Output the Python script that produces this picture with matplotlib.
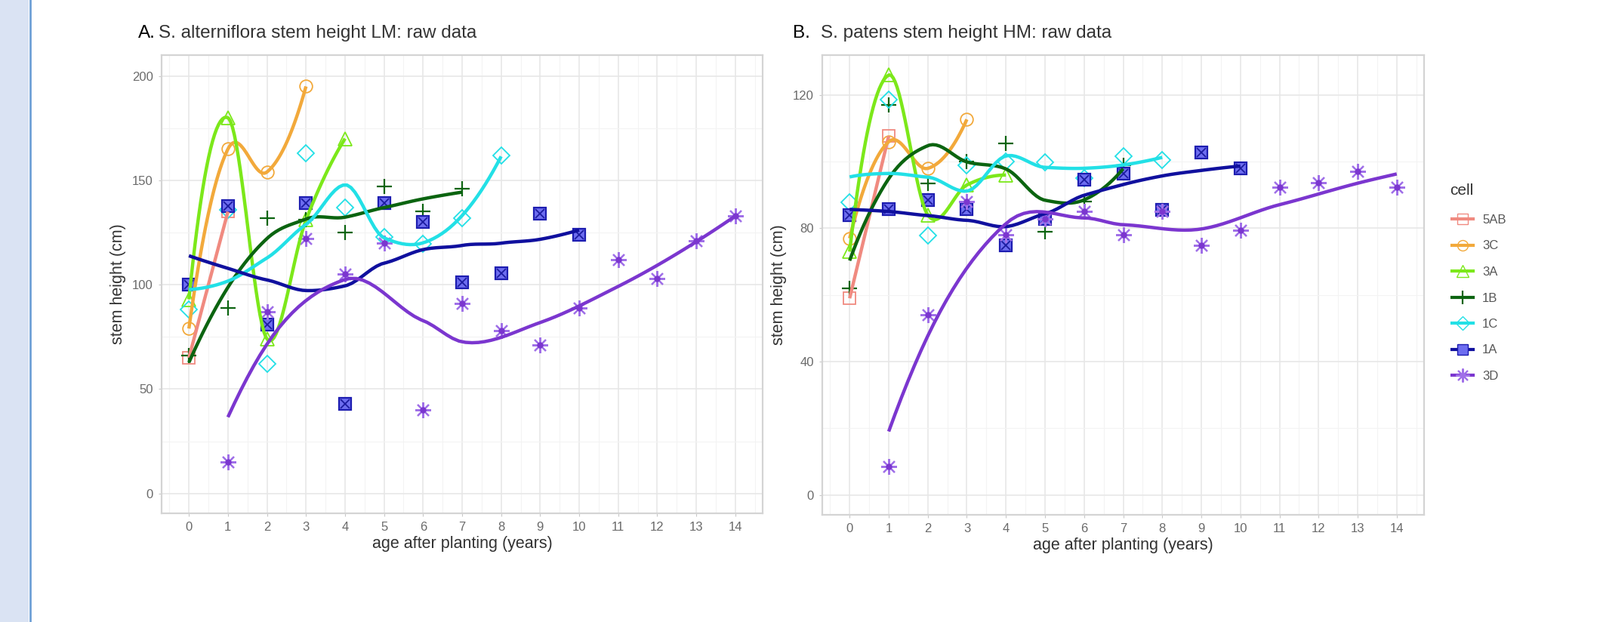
import numpy as np
import matplotlib
matplotlib.use("Agg")
import matplotlib.pyplot as plt
from matplotlib.lines import Line2D

plt.rcParams["font.family"] = ["Liberation Sans", "DejaVu Sans"]

# ---- data (years after planting, stem height cm) ----
cells = ["5AB", "3C", "3A", "1B", "1C", "1A", "3D"]

a_5AB_x = [0, 1]
a_5AB_y = [65, 135]
a_3C_x = [0, 1, 2, 3]
a_3C_y = [79, 165, 154, 195]
a_3A_x = [0, 1, 2, 3, 4]
a_3A_y = [93, 180, 74, 131, 170]
a_1B_x = [0, 1, 2, 3, 4, 5, 6, 7]
a_1B_y = [66, 89, 132, 131, 125, 147, 135, 146]
a_1C_x = [0, 1, 2, 3, 4, 5, 6, 7, 8]
a_1C_y = [88, 136, 62, 163, 137, 123, 119.5, 132, 162]
a_1A_x = [0, 1, 2, 3, 4, 5, 6, 7, 8, 9, 10]
a_1A_y = [100, 137.5, 81, 139, 43, 139, 130, 101, 105.5, 134, 124]
a_3D_x = [1, 2, 3, 4, 5, 6, 7, 8, 9, 10, 11, 12, 13, 14]
a_3D_y = [15, 87, 122, 105, 120, 40, 91, 78, 71, 89, 112, 103, 121, 133]

b_5AB_x = [0, 1]
b_5AB_y = [59, 107.7]
b_3C_x = [0, 1, 2, 3]
b_3C_y = [77, 106, 98, 112.7]
b_3A_x = [0, 1, 2, 3, 4]
b_3A_y = [73, 126, 84, 93, 96]
b_1B_x = [0, 1, 2, 3, 4, 5, 6, 7]
b_1B_y = [62, 117, 93.4, 100, 105.4, 79, 88, 99]
b_1C_x = [0, 1, 2, 3, 4, 5, 6, 7, 8]
b_1C_y = [87.7, 118.6, 77.8, 99, 100, 99.8, 95, 101.6, 100.5]
b_1A_x = [0, 1, 2, 3, 4, 5, 6, 7, 8, 9, 10]
b_1A_y = [84, 85.7, 88.4, 85.7, 74.8, 82.8, 94.5, 96.4, 85.5, 102.7, 98]
b_3D_x = [1, 2, 3, 4, 5, 6, 7, 8, 9, 10, 11, 12, 13, 14]
b_3D_y = [8.6, 54, 88, 78, 82.8, 85, 78, 85, 75, 79.4, 92.3, 93.7, 97, 92.3]

panel_a = {"5AB": (a_5AB_x, a_5AB_y), "3C": (a_3C_x, a_3C_y), "3A": (a_3A_x, a_3A_y),
           "1B": (a_1B_x, a_1B_y), "1C": (a_1C_x, a_1C_y), "1A": (a_1A_x, a_1A_y),
           "3D": (a_3D_x, a_3D_y)}
panel_b = {"5AB": (b_5AB_x, b_5AB_y), "3C": (b_3C_x, b_3C_y), "3A": (b_3A_x, b_3A_y),
           "1B": (b_1B_x, b_1B_y), "1C": (b_1C_x, b_1C_y), "1A": (b_1A_x, b_1A_y),
           "3D": (b_3D_x, b_3D_y)}

colors = {"5AB": "#F08A80", "3C": "#F2A93B", "3A": "#7CE81A", "1B": "#0B6410",
          "1C": "#22E0E6", "1A": "#10109E", "3D": "#7B36CF"}


def local_fit(x, y, x0, span, degree):
    # tricube-weighted local polynomial at x0 -> (value, slope)
    n = len(x)
    deg = min(degree, n - 1)
    q = min(max(int(np.floor(n * span)), deg + 1), n)
    d = np.abs(x - x0)
    ds = np.sort(d)
    if q < n:
        rho = 0.5 * (ds[q - 1] + ds[q])
    else:
        rho = ds[-1] * 1.15
    w = np.clip(1 - (d / rho) ** 3, 0, None) ** 3
    X = np.vander(x - x0, deg + 1, increasing=True)
    sw = np.sqrt(w)
    coef, *_ = np.linalg.lstsq(X * sw[:, None], y * sw, rcond=None)
    return coef[0], (coef[1] if deg >= 1 else 0.0)


def loess(x, y, xs, span=0.75, degree=2, cell=0.2):
    # loess with kd-tree vertices and cubic Hermite interpolation between them
    x = np.asarray(x, float)
    y = np.asarray(y, float)
    srt = np.sort(x)
    n = len(srt)
    fc = int(np.floor(n * span * cell))
    mu = 0.005 * max(srt[-1] - srt[0], 1e-10)
    lo, hi = srt[0] - mu, srt[-1] + mu
    verts = {lo, hi}

    def split(l, u, a, b):
        if u - l + 1 <= fc:
            return
        m = (l + u) // 2
        t = srt[m]
        if t == a or t == b:
            return
        verts.add(t)
        split(l, m, a, t)
        split(m + 1, u, t, b)

    split(0, n - 1, lo, hi)
    v = np.array(sorted(verts))
    fits = np.array([local_fit(x, y, vv, span, degree) for vv in v])
    val, slope = fits[:, 0], fits[:, 1]
    out = []
    for x0 in xs:
        i = min(max(np.searchsorted(v, x0) - 1, 0), len(v) - 2)
        h = v[i + 1] - v[i]
        t = (x0 - v[i]) / h
        h00 = 2 * t**3 - 3 * t**2 + 1
        h10 = t**3 - 2 * t**2 + t
        h01 = -2 * t**3 + 3 * t**2
        h11 = t**3 - t**2
        out.append(h00 * val[i] + h10 * h * slope[i] + h01 * val[i + 1] + h11 * h * slope[i + 1])
    return np.array(out)


def draw_points(ax, cell, x, y):
    c = colors[cell]
    if cell == "5AB":
        ax.plot(x, y, "s", ms=12, mfc="none", mec=c, mew=1.3, zorder=3)
    elif cell == "3C":
        ax.plot(x, y, "o", ms=12, mfc="none", mec=c, mew=1.3, zorder=3)
    elif cell == "3A":
        ax.plot(x, y, "^", ms=13, mfc="none", mec=c, mew=1.3, zorder=3)
    elif cell == "1B":
        ax.plot(x, y, "+", ms=15, mec=c, mew=1.6, zorder=3)
    elif cell == "1C":
        ax.plot(x, y, "D", ms=11, mfc="none", mec=c, mew=1.3, zorder=3)
    elif cell == "1A":
        ax.plot(x, y, "s", ms=12, mfc="#6D6DF0", mec="#1C1CB0", mew=1.6, zorder=3)
        ax.plot(x, y, "x", ms=8, mec="#1C1CA0", mew=1.3, zorder=3)
    elif cell == "3D":
        ax.plot(x, y, marker=(8, 2, 0), ls="none", ms=15, mec="#A070E8", mew=1.6, zorder=3)
        ax.plot(x, y, "o", ms=5, mfc=c, mec=c, zorder=3)


def style_axes(ax, ylim, ymajor, yminor):
    ax.set_xlim(-0.7, 14.7)
    ax.set_ylim(*ylim)
    ax.set_xticks(range(0, 15))
    ax.set_xticks(np.arange(-0.5, 15, 1), minor=True)
    ax.set_yticks(ymajor)
    ax.set_yticks(yminor, minor=True)
    ax.grid(which="major", color="#E6E6E6", lw=1.1, zorder=0)
    ax.grid(which="minor", color="#F3F3F3", lw=0.8, zorder=0)
    ax.set_axisbelow(True)
    for s in ax.spines.values():
        s.set_color("#D4D4D4")
        s.set_linewidth(1.6)
    ax.tick_params(which="major", length=3, color="#C8C8C8", labelsize=12,
                   labelcolor="#6A6A6A", pad=5)
    ax.tick_params(which="minor", length=0)
    ax.set_xlabel("age after planting (years)", fontsize=15.5, color="#333333", labelpad=3)
    ax.set_ylabel("stem height (cm)", fontsize=15.5, color="#333333", labelpad=6)


fig = plt.figure(figsize=(21.19, 8.24), dpi=100)
fig.patches.append(plt.Rectangle((0, 0), 38 / 2119, 1, transform=fig.transFigure,
                                 facecolor="#DAE3F3", edgecolor="none", zorder=0))
fig.add_artist(Line2D([39.5 / 2119, 39.5 / 2119], [0, 1], transform=fig.transFigure,
                      color="#6FA0D6", lw=2))

ax_a = fig.add_axes([214 / 2119, 144 / 824, 796 / 2119, 607 / 824])
ax_b = fig.add_axes([1089 / 2119, 142 / 824, 797 / 2119, 609 / 824])

for ax, data in ((ax_a, panel_a), (ax_b, panel_b)):
    for cell in cells:
        x, y = data[cell]
        draw_points(ax, cell, x, y)
    for cell in cells:
        x, y = data[cell]
        xs = np.linspace(min(x), max(x), 80)
        ax.plot(xs, loess(x, y, xs), color=colors[cell], lw=3.2, zorder=4,
                solid_capstyle="butt")

style_axes(ax_a, (-9.5, 210), [0, 50, 100, 150, 200], [25, 75, 125, 175])
style_axes(ax_b, (-6, 132), [0, 40, 80, 120], [20, 60, 100])

fig.text(183 / 2119, 1 - 44 / 824, "A.", fontsize=17.5, color="black", va="center")
fig.text(210 / 2119, 1 - 44 / 824, "S. alterniflora stem height LM: raw data",
         fontsize=17.5, color="#333333", va="center")
fig.text(1050 / 2119, 1 - 44 / 824, "B.", fontsize=17.5, color="black", va="center")
fig.text(1087 / 2119, 1 - 44 / 824, "S. patens stem height HM: raw data",
         fontsize=17.5, color="#333333", va="center")

# legend
handles = []
for cell in cells:
    c = colors[cell]
    if cell == "5AB":
        h = Line2D([], [], color=c, lw=3, marker="s", ms=10, mfc="none", mec=c)
    elif cell == "3C":
        h = Line2D([], [], color=c, lw=3, marker="o", ms=10, mfc="none", mec=c)
    elif cell == "3A":
        h = Line2D([], [], color=c, lw=3, marker="^", ms=11, mfc="none", mec=c)
    elif cell == "1B":
        h = Line2D([], [], color=c, lw=3, marker="+", ms=13, mec=c, mew=1.6)
    elif cell == "1C":
        h = Line2D([], [], color=c, lw=3, marker="D", ms=9, mfc="none", mec=c)
    elif cell == "1A":
        h = Line2D([], [], color=c, lw=3, marker="s", ms=10, mfc="#6D6DF0", mec="#1C1CB0")
    else:
        h = Line2D([], [], color=c, lw=3, marker=(8, 2, 0), ms=13, mec="#A070E8", mew=1.5)
    handles.append(h)
fig.text(1920 / 2119, 1 - 252 / 824, "cell", fontsize=15, color="#333333", va="center")
leg = fig.legend(handles, cells, loc="upper left",
                 bbox_to_anchor=(1908 / 2119, 1 - 269 / 824), frameon=False,
                 fontsize=12, labelspacing=1.17,
                 handlelength=1.7, handletextpad=0.7)
for t in leg.get_texts():
    t.set_color("#555555")

fig.savefig("out.png", dpi=100)
